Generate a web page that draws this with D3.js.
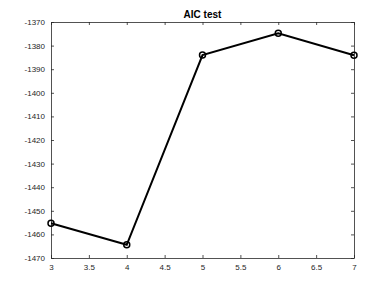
<!DOCTYPE html>
<html><head><meta charset="utf-8">
<script src="https://cdn.jsdelivr.net/npm/d3@7"></script>
<style>body{margin:0;background:#fff}svg{display:block}</style>
</head><body>
<script>
const xs = [3, 4, 5, 6, 7];
const aic = [-1455.3, -1464.4, -1384.0, -1374.8, -1384.1];
const xTicks = [3, 3.5, 4, 4.5, 5, 5.5, 6, 6.5, 7];
const yTicks = [-1470, -1460, -1450, -1440, -1430, -1420, -1410, -1400, -1390, -1380, -1370];
const title = "AIC test";

const W = 392, H = 291;
const m = {l: 51, r: 38, t: 22, b: 33};
const svg = d3.select("body").append("svg").attr("width", W).attr("height", H);
const x = d3.scaleLinear().domain([3, 7]).range([m.l, W - m.r]);
const y = d3.scaleLinear().domain([-1470, -1370]).range([H - m.b, m.t]);
const fmt = d => String(d).replace("\u2212", "-");
const axColor = "#262626";
const font = "Liberation Sans, Arial, sans-serif";

function style(g){
  g.selectAll("path.domain").attr("stroke", axColor).attr("stroke-width", 0.8);
  g.selectAll(".tick line").attr("stroke", axColor).attr("stroke-width", 0.8);
  g.selectAll("text").attr("fill", axColor).attr("font-family", font).attr("font-size", 8);
}
const gb = svg.append("g").attr("transform", `translate(0,${H - m.b})`)
  .call(d3.axisBottom(x).tickValues(xTicks).tickFormat(fmt).tickSizeInner(-3).tickSizeOuter(0).tickPadding(6));
style(gb);
const gt = svg.append("g").attr("transform", `translate(0,${m.t})`)
  .call(d3.axisTop(x).tickValues(xTicks).tickFormat("").tickSizeInner(-3).tickSizeOuter(0));
style(gt);
const gl = svg.append("g").attr("transform", `translate(${m.l},0)`)
  .call(d3.axisLeft(y).tickValues(yTicks).tickFormat(d => d3.format("d")(d).replace("\u2212","-")).tickSizeInner(-3).tickSizeOuter(0).tickPadding(6));
style(gl);
const gr = svg.append("g").attr("transform", `translate(${W - m.r},0)`)
  .call(d3.axisRight(y).tickValues(yTicks).tickFormat("").tickSizeInner(-3).tickSizeOuter(0));
style(gr);

const pts = xs.map((v, i) => [v, aic[i]]);
svg.append("path").datum(pts)
  .attr("fill", "none").attr("stroke", "#000").attr("stroke-width", 2)
  .attr("d", d3.line().x(d => x(d[0])).y(d => y(d[1])));
svg.selectAll("circle.pt").data(pts).enter().append("circle").attr("class", "pt")
  .attr("cx", d => x(d[0])).attr("cy", d => y(d[1])).attr("r", 3)
  .attr("fill", "none").attr("stroke", "#000").attr("stroke-width", 1.5);

svg.append("text").attr("x", (m.l + W - m.r) / 2).attr("y", 18)
  .attr("text-anchor", "middle").attr("font-family", font).attr("font-weight", "bold")
  .attr("font-size", 10).attr("fill", "#000").text(title);
</script>
</body></html>
